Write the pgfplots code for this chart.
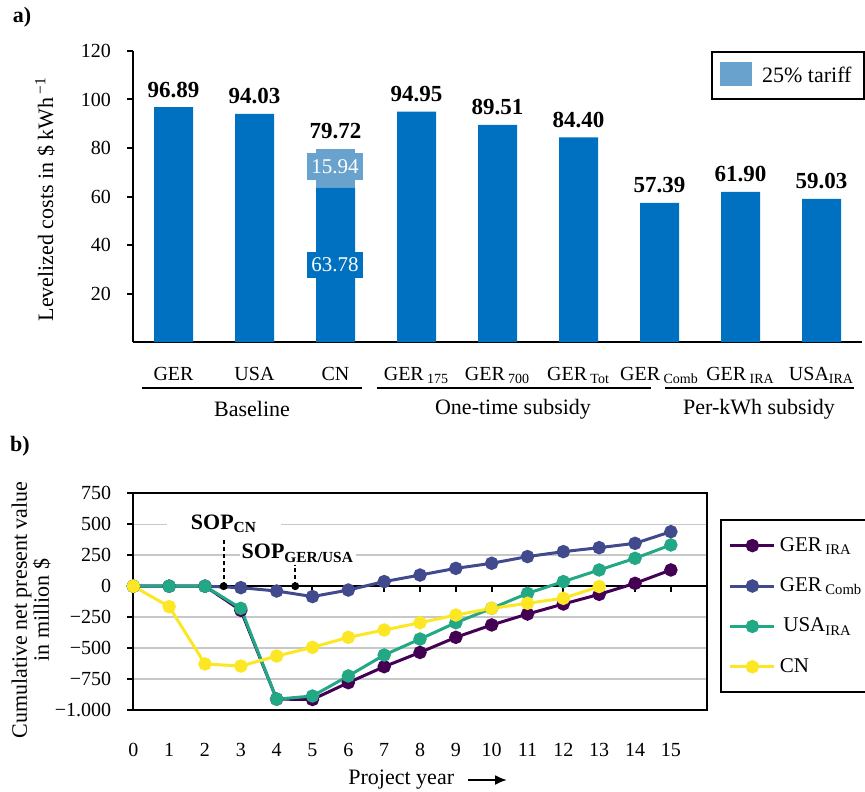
\documentclass[border=0pt]{standalone}
\usepackage{pgfplots}
\pgfplotsset{compat=1.18}
\usepackage{fontspec}
\setmainfont{Liberation Serif}
\usetikzlibrary{arrows.meta}
\definecolor{cdark}{HTML}{0070C0}
\definecolor{clight}{HTML}{69A3CD}
\definecolor{vpur}{HTML}{440154}
\definecolor{vblue}{HTML}{404A8C}
\definecolor{vgreen}{HTML}{22A884}
\definecolor{vyel}{HTML}{FDE725}
\definecolor{gridgray}{HTML}{C8C8C8}
\pgfplotsset{/pgf/number format/assume math mode=true}
\newcommand{\fs}[1]{\fontsize{#1}{#1}\selectfont}
\tikzset{vlab/.style={font=\bfseries\fs{11.5}, anchor=base, inner sep=0pt, yshift=5pt}}
\begin{document}
\begin{tikzpicture}
\begin{scope}[x=0.5pt,y=-0.5pt]
\coordinate (topSW) at (133,342);
\coordinate (botSW) at (133.3,710);
\end{scope}

% ---------------- a) ----------------
\begin{axis}[
  at={(topSW)}, anchor=south west, scale only axis,
  width=364.5pt, height=145.5pt,
  xmin=-0.5, xmax=8.5, ymin=0, ymax=120,
  axis x line*=bottom, axis y line*=left,
  axis line style={line width=1pt},
  ybar stacked, bar width=19.5pt,
  ytick={20,40,...,120}, tick align=outside, major tick length=3pt,
  ytick style={line width=1pt, black},
  yticklabel style={font=\fs{10}, xshift=-4.5pt},
  xtick={0,...,8}, xtick style={draw=none},
  xticklabels={GER,USA,CN,GER\,\textsubscript{175},GER\,\textsubscript{700},GER\,\textsubscript{Tot},GER\,\textsubscript{Comb},GER\,\textsubscript{IRA},USA\textsubscript{IRA}},
  xticklabel style={anchor=base, yshift=-16pt, font=\fs{10}},
  clip=false,
]
\addplot[fill=cdark, draw=none] coordinates {(0,96.89) (1,94.03) (2,63.78) (3,94.95) (4,89.51) (5,84.40) (6,57.39) (7,61.90) (8,59.03)};
\addplot[fill=clight, draw=none] coordinates {(0,0) (1,0) (2,15.94) (3,0) (4,0) (5,0) (6,0) (7,0) (8,0)};
\node[vlab] at (axis cs:0,96.89) {96.89};
\node[vlab] at (axis cs:1,94.03) {94.03};
\node[vlab] at (axis cs:2,79.72) {79.72};
\node[vlab] at (axis cs:3,94.95) {94.95};
\node[vlab] at (axis cs:4,89.51) {89.51};
\node[vlab] at (axis cs:5,84.40) {84.40};
\node[vlab] at (axis cs:6,57.39) {57.39};
\node[vlab] at (axis cs:7,61.90) {61.90};
\node[vlab] at (axis cs:8,59.03) {59.03};
\end{axis}

% ---------------- b) ----------------
\begin{axis}[
  at={(botSW)}, anchor=south west, scale only axis,
  width=286.7pt, height=108.35pt,
  xmin=0, xmax=16, ymin=-1000, ymax=750,
  axis line style={line width=1pt},
  xtick={0,...,15}, xtick style={draw=none},
  xticklabel style={anchor=base, yshift=-20pt, font=\fs{10}},
  ytick={-1000,-750,...,750},
  yticklabels={−1.000,−750,−500,−250,0,250,500,750},
  yticklabel style={font=\fs{10}, xshift=-4.5pt},
  ytick pos=left, tick align=outside, major tick length=3pt,
  ytick style={line width=1pt, black},
  ymajorgrids, grid style={gridgray, line width=0.75pt},
  extra y ticks={0}, extra y tick labels={},
  extra y tick style={grid style={black, line width=1pt}, major tick length=0pt},
  clip=false,
  legend style={at={(1.023,0.881)}, anchor=north west, draw=black, line width=1pt,
    font=\fs{10.5}, row sep=6.7pt, inner xsep=4pt, inner ysep=6pt,
    nodes={text height=7.5pt, text depth=2pt}},
  legend cell align=left,
  legend image code/.code={\draw[mark repeat=2,mark phase=2,#1] plot coordinates {(0pt,0pt) (11pt,0pt) (22pt,0pt)};},
  every axis plot/.append style={line width=1.5pt, mark=*, mark size=2.6pt},
]
\pgfplotsinvokeforeach{1,...,15}{\draw[line width=1pt] (axis cs:#1,0) -- (axis cs:#1,-45);}
\addplot[vpur, mark options={fill=vpur}] coordinates {(0,0) (1,0) (2,0) (3,-195) (4,-912) (5,-915) (6,-779) (7,-650) (8,-535) (9,-413) (10,-313) (11,-225) (12,-144) (13,-66) (14,23) (15,131)};
\addlegendentry{GER\,\textsubscript{IRA}}
\addplot[vblue, mark options={fill=vblue}] coordinates {(0,0) (1,0) (2,0) (3,-12) (4,-39) (5,-84) (6,-31) (7,37) (8,90) (9,144) (10,185) (11,239) (12,279) (13,311) (14,346) (15,440)};
\addlegendentry{GER\,\textsubscript{Comb}}
\addplot[vgreen, mark options={fill=vgreen}] coordinates {(0,0) (1,0) (2,0) (3,-179) (4,-912) (5,-887) (6,-725) (7,-556) (8,-427) (9,-295) (10,-179) (11,-58) (12,37) (13,131) (14,225) (15,333)};
\addlegendentry{\,USA\textsubscript{IRA}}
\addplot[vyel, mark options={fill=vyel}] coordinates {(0,0) (1,-165) (2,-628) (3,-645) (4,-564) (5,-494) (6,-413) (7,-354) (8,-295) (9,-233) (10,-179) (11,-138) (12,-98) (13,-3)};
\addlegendentry{CN}
\draw[line width=1pt, dash pattern=on 2pt off 1.5pt] (axis cs:2.52,0) -- (axis cs:2.52,374);
\draw[line width=1pt, dash pattern=on 2pt off 1.5pt] (axis cs:4.52,0) -- (axis cs:4.52,170);
\fill (axis cs:2.52,0) circle[radius=2pt];
\fill (axis cs:4.52,0) circle[radius=2pt];
\node[fill=white, font=\bfseries\fs{11}, inner xsep=12pt, inner ysep=1pt] at (axis cs:2.53,505) {SOP\textsubscript{CN}};
\node[fill=white, font=\bfseries\fs{11}, inner xsep=1pt, inner ysep=1pt] at (axis cs:4.59,265) {SOP\textsubscript{GER/USA}};
\end{axis}

\begin{scope}[x=0.5pt,y=-0.5pt]
\node[fill=clight, text=white, font=\fs{10.5}, minimum width=28pt, minimum height=13.5pt, inner sep=0pt] at (335,166.5) {15.94};
\node[fill=cdark, text=white, font=\fs{10.5}, minimum width=28pt, minimum height=13pt, inner sep=0pt] at (335,265) {63.78};
\node[font=\bfseries\fs{11}] at (22,17) {a)};
\node[font=\bfseries\fs{11}] at (20,446) {b)};
\node[rotate=90, font=\fs{11}] at (45,199) {Levelized costs in \$ kWh\,\textsuperscript{−1}};
\node[rotate=90, font=\fs{11}, align=center] at (31,610) {Cumulative net present value\\in million \$};
\draw[line width=1pt] (141.7,388) -- (361.7,388);
\draw[line width=1pt] (376.7,388) -- (650.7,388);
\draw[line width=1pt] (665,388) -- (854,388);
\node[font=\fs{11}] at (252,409) {Baseline};
\node[font=\fs{11}] at (513,409) {One-time subsidy};
\node[font=\fs{11}] at (759,409) {Per-kWh subsidy};
\draw[line width=1pt] (711.7,51.7) rectangle (864,99);
\fill[clight] (720,62) rectangle (751.7,85.7);
\node[anchor=west, font=\fs{11}, inner sep=0pt] at (761.7,75) {25\% tariff};
\node[anchor=west, font=\fs{11}, inner sep=0pt] at (348,780) {Project year};
\draw[line width=1pt, -{Latex[length=6pt,width=5pt]}] (468,780) -- (507,780);
\pgfresetboundingbox
\path[use as bounding box] (0,0) rectangle (865,791);
\end{scope}
\end{tikzpicture}
\end{document}
